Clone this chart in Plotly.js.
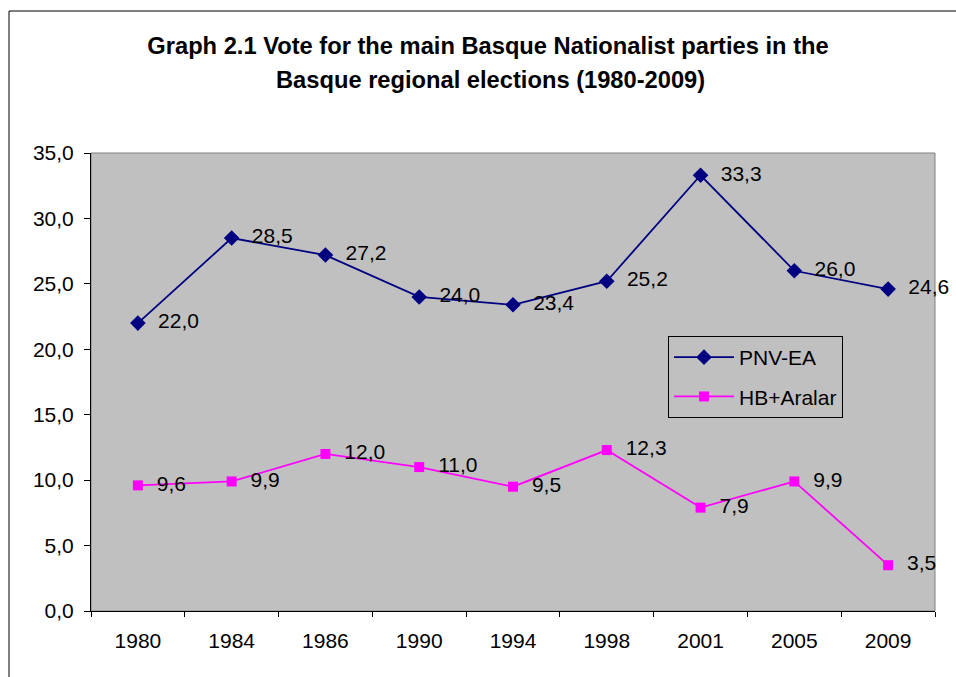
<!DOCTYPE html>
<html>
<head>
<meta charset="utf-8">
<script src="https://cdn.plot.ly/plotly-3.0.1.min.js"></script>
<style>
  html, body { margin: 0; padding: 0; background: #ffffff; }
  #chart { width: 956px; height: 677px; }
</style>
</head>
<body>
<div id="chart"></div>
<script>
const years = ["1980", "1984", "1986", "1990", "1994", "1998", "2001", "2005", "2009"];
const pnvEa = [22.0, 28.5, 27.2, 24.0, 23.4, 25.2, 33.3, 26.0, 24.6];
const hbAralar = [9.6, 9.9, 12.0, 11.0, 9.5, 12.3, 7.9, 9.9, 3.5];
const seriesNames = ["PNV-EA", "HB+Aralar"];
const titleLine1 = "Graph 2.1 Vote for the main Basque Nationalist parties in the";
const titleLine2 = "Basque regional elections (1980-2009)";

const FONT = "Liberation Sans, Arial, sans-serif";
const fmt = v => "\u00a0\u00a0" + v.toFixed(1).replace(".", ",");

const W = 956, H = 677;
const L = 91, R = 935, T = 153, B = 611;
const pw = R - L, ph = B - T;
const px = x => (x - L) / pw;
const py = y => (B - y) / ph;

const traces = [
  {
    x: years, y: pnvEa, name: seriesNames[0], type: "scatter", mode: "lines+markers+text",
    text: pnvEa.map(fmt), textposition: "middle right",
    textfont: { family: FONT, size: 21, color: "#000000" },
    line: { color: "#000080", width: 1.8 },
    marker: { symbol: "diamond", size: 12, color: "#000080" },
    legendgroup: "a", cliponaxis: false, hoverinfo: "x+y"
  },
  {
    x: years, y: hbAralar, name: seriesNames[1], type: "scatter", mode: "lines+markers+text",
    text: hbAralar.map(fmt), textposition: "middle right",
    textfont: { family: FONT, size: 21, color: "#000000" },
    line: { color: "#FF00FF", width: 1.8 },
    marker: { symbol: "square", size: 10, color: "#FF00FF" },
    legendgroup: "b", cliponaxis: false, hoverinfo: "x+y"
  }
];

const layout = {
  width: W, height: H,
  margin: { l: L, r: W - R, t: T, b: H - B, pad: 0 },
  paper_bgcolor: "#ffffff",
  plot_bgcolor: "#C0C0C0",
  font: { family: FONT, size: 21, color: "#000000" },
  title: {
    text: "<b>" + titleLine1 + "</b>",
    font: { family: FONT, size: 23.7, color: "#000000" },
    x: 488 / W, xanchor: "center", xref: "container",
    y: 1 - 46 / H, yanchor: "middle", yref: "container"
  },
  annotations: [
    {
      text: "<b>" + titleLine2 + "</b>", showarrow: false,
      xref: "paper", yref: "paper", x: px(490), y: py(80),
      xanchor: "center", yanchor: "middle",
      font: { family: FONT, size: 23.7, color: "#000000" }
    }
  ],
  xaxis: {
    type: "category",
    showgrid: false, zeroline: false,
    showline: true, linecolor: "#000000", linewidth: 1,
    ticks: "outside", ticklen: 5, tickcolor: "#000000", tickwidth: 1,
    tickson: "boundaries",
    ticklabelstandoff: 11,
    tickfont: { family: FONT, size: 21, color: "#000000" },
    range: [-0.5, 8.5], fixedrange: true
  },
  yaxis: {
    range: [0, 35], dtick: 5, tick0: 0,
    tickformat: ".1f",
    showgrid: false, zeroline: false,
    showline: true, linecolor: "#000000", linewidth: 1,
    ticks: "outside", ticklen: 6, tickcolor: "#000000", tickwidth: 1,
    ticklabelstandoff: 6,
    tickfont: { family: FONT, size: 21, color: "#000000" },
    fixedrange: true
  },
  separators: ",.",
  showlegend: true,
  legend: {
    x: px(668), y: py(336), xanchor: "left", yanchor: "top",
    bgcolor: "#C0C0C0", bordercolor: "#000000", borderwidth: 1,
    font: { family: FONT, size: 21, color: "#000000" },
    traceorder: "grouped", tracegroupgap: 9,
    itemwidth: 60
  },
  shapes: [
    {
      type: "rect", xref: "paper", yref: "paper", x0: 0, x1: 1, y0: 0, y1: 1,
      line: { color: "#808080", width: 1 }, fillcolor: "rgba(0,0,0,0)", layer: "below"
    },
    {
      type: "rect", xref: "paper", yref: "paper",
      x0: px(9), x1: px(970), y0: py(690), y1: py(11),
      line: { color: "#000000", width: 1 }, fillcolor: "rgba(0,0,0,0)", layer: "below"
    }
  ]
};

Plotly.newPlot("chart", traces, layout, { displayModeBar: false, staticPlot: true });
</script>
</body>
</html>
